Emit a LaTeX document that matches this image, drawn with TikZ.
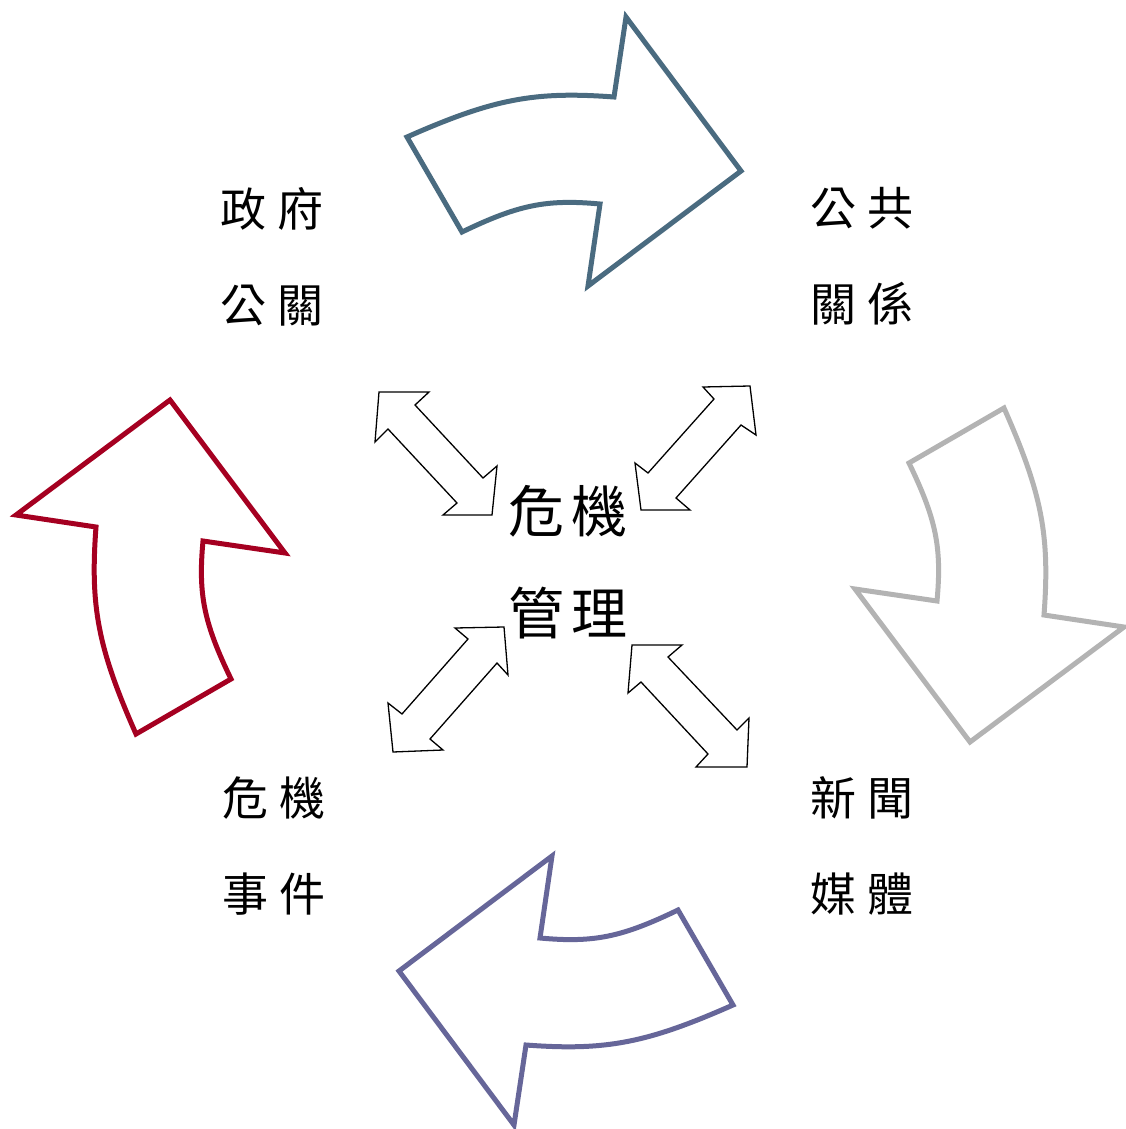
\documentclass[tikz,border=0pt]{standalone}
\usepackage{fontspec}
\newfontfamily\cjk{Noto Sans CJK TC}
\definecolor{arrowsteel}{HTML}{4A6B80}
\definecolor{arrowgrey}{HTML}{B3B3B3}
\definecolor{arrowslate}{HTML}{666699}
\definecolor{arrowcrimson}{HTML}{A50021}
\begin{document}
\begin{tikzpicture}[x=1pt,y=-1pt,
  cyclearrow/.style={line width=5pt, fill=white, line join=miter},
  linkarrow/.style={draw=black, line width=1.3pt, fill=white, line join=miter},
  sidetext/.style={font=\cjk\fontsize{46}{96}\selectfont, align=center, inner sep=0pt},
  coretext/.style={font=\cjk\fontsize{56}{102}\selectfont, align=center, inner sep=0pt}]
\useasboundingbox (0,0) rectangle (1126,1129);
\coordinate (C) at (570,571);

% four curved block arrows, one shape turned a quarter at a time about the centre
\foreach \ang/\col in {0/arrowsteel, -90/arrowgrey, -180/arrowslate, 90/arrowcrimson} {
  \draw[cyclearrow, draw=\col, rotate around={\ang:(C)}]
    (407,137) -- (462,232) .. controls (518,205) and (546,199) .. (600,204)
    -- (588,286) -- (741,171) -- (626,17) -- (614,97)
    .. controls (534,91) and (493,99) .. (407,137) -- cycle;
}

% double-headed link arrows round the centre
\draw[linkarrow] (379,392) -- (429,392) -- (415,405) -- (483,478) -- (497,466)
  -- (492,515) -- (443,515) -- (457,503) -- (388,429) -- (375,442) -- cycle;
\draw[linkarrow] (703,387) -- (750,386) -- (756,435) -- (741,425) -- (676,498)
  -- (690,510) -- (641,510) -- (635,463) -- (648,473) -- (714,399) -- cycle;
\draw[linkarrow] (455,628) -- (504,627) -- (508,675) -- (497,663) -- (430,739)
  -- (443,750) -- (393,752) -- (388,703) -- (402,714) -- (468,639) -- cycle;
\draw[linkarrow] (632,645) -- (682,645) -- (668,657) -- (737,730) -- (749,718)
  -- (747,767) -- (696,767) -- (708,754) -- (641,682) -- (628,693) -- cycle;

% labels
\node[coretext] (core) at (568,562) {危\kern7pt機\\管\kern7pt理};
\node[sidetext] (gov) at (272,257) {政\kern12pt府\\公\kern12pt關};
\node[sidetext] (pr) at (862,256) {公\kern12pt共\\關\kern12pt係};
\node[sidetext] (event) at (274,846) {危\kern12pt機\\事\kern12pt件};
\node[sidetext] (media) at (862,846) {新\kern12pt聞\\媒\kern12pt體};
\end{tikzpicture}
\end{document}
